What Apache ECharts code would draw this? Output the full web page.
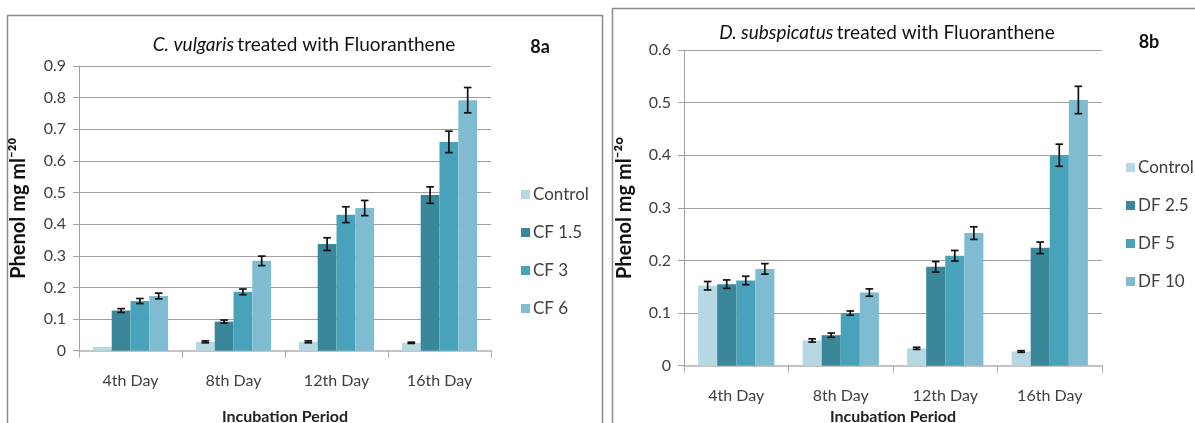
<!DOCTYPE html>
<html>
<head>
<meta charset="utf-8">
<script src="https://cdn.jsdelivr.net/npm/echarts@6/dist/echarts.min.js"></script>
<style>
html,body{margin:0;padding:0;background:#fff;}
#chart{width:1195px;height:423px;}
</style>
</head>
<body>
<div id="chart"></div>
<script>
// ---- Data ----
const categories = ['4th Day', '8th Day', '12th Day', '16th Day'];

// Chart 8a: C. vulgaris
const namesA = ['Control', 'CF 1.5', 'CF 3', 'CF 6'];
const controlA = [0.012, 0.028, 0.028, 0.025];
const cf15 = [0.127, 0.092, 0.337, 0.492];
const cf3 = [0.157, 0.186, 0.430, 0.660];
const cf6 = [0.173, 0.284, 0.451, 0.792];
const errControlA = [0, 0.003, 0.003, 0.002];
const errCf15 = [0.006, 0.005, 0.020, 0.026];
const errCf3 = [0.008, 0.009, 0.025, 0.034];
const errCf6 = [0.009, 0.015, 0.024, 0.040];

// Chart 8b: D. subspicatus
const namesB = ['Control', 'DF 2.5', 'DF 5', 'DF 10'];
const controlB = [0.152, 0.048, 0.033, 0.027];
const df25 = [0.155, 0.058, 0.188, 0.224];
const df5 = [0.162, 0.100, 0.209, 0.400];
const df10 = [0.184, 0.139, 0.252, 0.505];
const errControlB = [0.008, 0.003, 0.002, 0.0015];
const errDf25 = [0.008, 0.004, 0.010, 0.011];
const errDf5 = [0.008, 0.004, 0.010, 0.021];
const errDf10 = [0.010, 0.007, 0.012, 0.026];

const yTicksA = { min: 0, max: 0.9, interval: 0.1 };
const yTicksB = { min: 0, max: 0.6, interval: 0.1 };

// ---- Styling ----
const colors = ['#b5d8e2', '#3b879a', '#48a3ba', '#7fbcd1'];
const FONT = 'Lato, "Open Sans", sans-serif';
const GAP = 0.27;

const valuesA = [controlA, cf15, cf3, cf6];
const errsA = [errControlA, errCf15, errCf3, errCf6];
const valuesB = [controlB, df25, df5, df10];
const errsB = [errControlB, errDf25, errDf5, errDf10];

function barSeries(names, values, axisIdx) {
  return names.map((n, i) => ({
    name: n,
    type: 'bar',
    xAxisIndex: axisIdx,
    yAxisIndex: axisIdx,
    data: values[i],
    barGap: '0%',
    barCategoryGap: (GAP * 100) + '%',
    itemStyle: { color: colors[i] },
    emphasis: { disabled: true }
  }));
}

function errorSeries(values, errs, axisIdx) {
  const data = [];
  values.forEach((arr, s) => arr.forEach((v, c) => {
    data.push([c, v, errs[s][c], s]);
  }));
  return {
    type: 'custom',
    xAxisIndex: axisIdx,
    yAxisIndex: axisIdx,
    silent: true,
    z: 10,
    data: data,
    renderItem: function (params, api) {
      const c = api.value(0), v = api.value(1), e = api.value(2), s = api.value(3);
      if (e <= 0) return null;
      const band = api.size([1, 0])[0];
      const groupW = band * (1 - GAP);
      const barW = groupW / 4;
      const center = api.coord([c, v]);
      const x = center[0] - groupW / 2 + barW * (s + 0.5);
      const yHi = api.coord([c, v + e])[1];
      const yLo = api.coord([c, v - e])[1];
      const cap = 3.8;
      const st = { stroke: '#111', lineWidth: 1.7 };
      return {
        type: 'group',
        children: [
          { type: 'line', shape: { x1: x, y1: yHi, x2: x, y2: yLo }, style: st },
          { type: 'line', shape: { x1: x - cap, y1: yHi, x2: x + cap, y2: yHi }, style: st },
          { type: 'line', shape: { x1: x - cap, y1: yLo, x2: x + cap, y2: yLo }, style: st }
        ]
      };
    }
  };
}

function xAxis(gridIdx, nameGap) {
  return {
    type: 'category',
    gridIndex: gridIdx,
    data: categories,
    name: 'Incubation Period',
    nameLocation: 'middle',
    nameGap: nameGap,
    nameTextStyle: { fontFamily: FONT, fontSize: 16, fontWeight: 'bold', color: '#222' },
    axisLine: { lineStyle: { color: '#c4c4c4', width: 2 } },
    axisTick: { show: true, alignWithLabel: false, length: 7, lineStyle: { color: '#a8a8a8', width: 1 } },
    axisLabel: { margin: 22, fontFamily: FONT, fontSize: 16, color: '#404040' },
    splitLine: { show: false }
  };
}

function yAxis(gridIdx, ticks, name, gap) {
  return {
    type: 'value',
    gridIndex: gridIdx,
    min: ticks.min,
    max: ticks.max,
    interval: ticks.interval,
    name: name,
    nameLocation: 'middle',
    nameGap: gap,
    nameTextStyle: { fontFamily: FONT, fontSize: 20, fontWeight: 'bold', color: '#111' },
    axisLine: { show: true, lineStyle: { color: '#a0a0a0', width: 1 } },
    axisTick: { show: true, length: 6, lineStyle: { color: '#a0a0a0' } },
    axisLabel: {
      margin: 13, fontFamily: FONT, fontSize: 16, color: '#404040',
      formatter: v => (Math.round(v * 10) / 10).toString()
    },
    splitLine: { show: true, lineStyle: { color: '#a0a0a0', width: 1 } }
  };
}

function legend(names, left, top) {
  return {
    data: names,
    orient: 'vertical',
    left: left,
    top: top,
    icon: 'rect',
    itemWidth: 9,
    itemHeight: 9,
    itemGap: 21,
    selectedMode: false,
    textStyle: { fontFamily: FONT, fontSize: 17, color: '#404040', padding: [0, 0, 0, -2] }
  };
}

const chart = echarts.init(document.getElementById('chart'), null, { renderer: 'canvas' });
chart.setOption({
  animation: false,
  backgroundColor: '#fff',
  grid: [
    { left: 79, top: 66, width: 412, height: 284.7, outerBoundsMode: 'none', containLabel: false },
    { left: 684, top: 50, width: 418, height: 315.7, outerBoundsMode: 'none', containLabel: false }
  ],
  xAxis: [xAxis(0, 58), xAxis(1, 42)],
  yAxis: [
    yAxis(0, yTicksA, 'Phenol mg ml\u207B\u00B2\u2070', 50),
    yAxis(1, yTicksB, 'Phenol mg ml\u207B\u00B2\u00B0', 49)
  ],
  legend: [legend(namesA, 516, 181), legend(namesB, 1121, 154)],
  graphic: [
    { type: 'rect', shape: { x: 7.5, y: 15.5, width: 595, height: 430 }, style: { fill: 'none', stroke: '#8a8a8a', lineWidth: 1.5 }, silent: true, z: -10 },
    { type: 'rect', shape: { x: 612.5, y: 8.5, width: 600, height: 430 }, style: { fill: 'none', stroke: '#8a8a8a', lineWidth: 1.5 }, silent: true, z: -10 },
    {
      type: 'text', x: 304, y: 45, silent: true,
      style: {
        text: '{i|C. vulgaris} {n|treated with Fluoranthene}',
        align: 'center', verticalAlign: 'middle',
        rich: {
          i: { fontFamily: FONT, fontSize: 19, fontStyle: 'italic', fill: '#111' },
          n: { fontFamily: FONT, fontSize: 19, fill: '#111' }
        }
      }
    },
    { type: 'text', x: 540, y: 47, silent: true, style: { text: '8a', align: 'center', verticalAlign: 'middle', fontFamily: FONT, fontSize: 18, fontWeight: 'bold', fill: '#111' } },
    {
      type: 'text', x: 887, y: 33, silent: true,
      style: {
        text: '{i|D. subspicatus} {n|treated with Fluoranthene}',
        align: 'center', verticalAlign: 'middle',
        rich: {
          i: { fontFamily: FONT, fontSize: 19, fontStyle: 'italic', fill: '#111' },
          n: { fontFamily: FONT, fontSize: 19, fill: '#111' }
        }
      }
    },
    { type: 'text', x: 1149, y: 42, silent: true, style: { text: '8b', align: 'center', verticalAlign: 'middle', fontFamily: FONT, fontSize: 18, fontWeight: 'bold', fill: '#111' } }
  ],
  series: [
    ...barSeries(namesA, valuesA, 0),
    errorSeries(valuesA, errsA, 0),
    ...barSeries(namesB, valuesB, 1),
    errorSeries(valuesB, errsB, 1)
  ]
});
</script>
</body>
</html>
